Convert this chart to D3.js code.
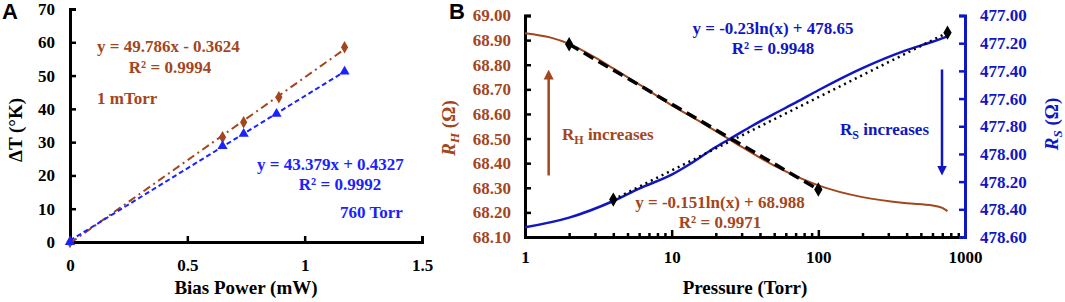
<!DOCTYPE html>
<html>
<head>
<meta charset="utf-8">
<script src="https://cdn.jsdelivr.net/npm/d3@7"></script>
<style>
  body { margin: 0; background: #fff; }
  text { font-family: "Liberation Serif", "Times New Roman", serif; font-weight: bold; }
</style>
</head>
<body>
<script>
// Panel A data
const powerBrown = [0, 0.65, 0.74, 0.89, 1.17]
const dTBrown = [0, 31.5, 36, 43.5, 58.5]
const powerBlue = [0, 0.65, 0.74, 0.88, 1.17]
const dTBlue = [0, 28.8, 32.5, 38.5, 51.2]
const fitBrownA = [[0, -0.36], [1.17, 57.9]]
const fitBlueA = [[0, 0.43], [1.17, 51.2]]
const ticksAx = [0, 0.5, 1, 1.5]
const ticksAy = [0, 10, 20, 30, 40, 50, 60, 70]

// Panel B data
const pressH = [1, 1.5, 2, 3, 4, 6, 10, 15, 25, 50, 100, 200, 400, 600, 700, 760]
const rH = [68.928, 68.91, 68.885, 68.83, 68.785, 68.72, 68.635, 68.575, 68.495, 68.39, 68.31, 68.262, 68.237, 68.228, 68.218, 68.205]
const pressS = [1, 2, 4, 6, 10, 13, 20, 27, 35, 50, 70, 100, 200, 400, 600, 760]
const rS = [478.53, 478.46, 478.34, 478.25, 478.15, 478.08, 477.95, 477.87, 477.80, 477.71, 477.63, 477.54, 477.38, 477.25, 477.19, 477.15]
const fitH = [[2, 68.883], [100, 68.293]]
const fitS = [[4, 478.33], [760, 477.124]]
const ticksBleft = [68.1, 68.2, 68.3, 68.4, 68.5, 68.6, 68.7, 68.8, 68.9, 69.0]
const ticksBright = [477.0, 477.2, 477.4, 477.6, 477.8, 478.0, 478.2, 478.4, 478.6]

const brown = "#a3461d"
const blueA = "#1a22ff"
const blueB = "#1116c4"
const serif = "'Liberation Serif', 'Times New Roman', serif"

const svg = d3.select("body").append("svg")
    .attr("width", 1065)
    .attr("height", 302)

// ---------- Panel A ----------
const xA = d3.scaleLinear().domain([0, 1.5]).range([70, 422])
const yA = d3.scaleLinear().domain([0, 70]).range([242, 9])

const gA = svg.append("g")

gA.append("g")
    .attr("transform", "translate(0,242)")
    .call(d3.axisBottom(xA).tickValues(ticksAx).tickSize(-6).tickPadding(17).tickFormat(d3.format("")))
gA.append("g")
    .attr("transform", "translate(70,0)")
    .call(d3.axisLeft(yA).tickValues(ticksAy).tickSize(-6).tickPadding(15))

gA.selectAll(".domain").attr("stroke", "#000").attr("stroke-width", 3)
gA.selectAll(".tick line").attr("stroke", "#000").attr("stroke-width", 2.5)
gA.selectAll(".tick text").attr("fill", "#000")
    .style("font-family", serif).style("font-weight", "bold").style("font-size", "17px")

const lineA = d3.line().x(d => xA(d[0])).y(d => yA(d[1]))

gA.append("path").datum(fitBrownA).attr("d", lineA)
    .attr("fill", "none").attr("stroke", brown).attr("stroke-width", 2)
    .attr("stroke-dasharray", "8,4,2,4")
gA.append("path").datum(fitBlueA).attr("d", lineA)
    .attr("fill", "none").attr("stroke", blueA).attr("stroke-width", 2)
    .attr("stroke-dasharray", "5,3")

gA.selectAll(".dia").data(powerBrown).enter().append("path")
    .attr("d", d3.symbol(d3.symbolDiamond, 45))
    .attr("transform", (d, i) => `translate(${xA(d)},${yA(dTBrown[i])})`)
    .attr("fill", brown)
gA.selectAll(".tri").data(powerBlue).enter().append("path")
    .attr("d", d3.symbol(d3.symbolTriangle, 45))
    .attr("transform", (d, i) => `translate(${xA(d)},${yA(dTBlue[i])})`)
    .attr("fill", blueA)

gA.append("text").attr("x", 97).attr("y", 52).attr("fill", brown).attr("font-size", 17).text("y = 49.786x - 0.3624")
gA.append("text").attr("x", 170).attr("y", 73).attr("fill", brown).attr("font-size", 17).attr("text-anchor", "middle").text("R² = 0.9994")
gA.append("text").attr("x", 97).attr("y", 104).attr("fill", brown).attr("font-size", 17).text("1 mTorr")
gA.append("text").attr("x", 257).attr("y", 170).attr("fill", blueA).attr("font-size", 17).text("y = 43.379x + 0.4327")
gA.append("text").attr("x", 340).attr("y", 190).attr("fill", blueA).attr("font-size", 17).attr("text-anchor", "middle").text("R² = 0.9992")
gA.append("text").attr("x", 340).attr("y", 218).attr("fill", blueA).attr("font-size", 17).text("760 Torr")

gA.append("text").attr("x", 246).attr("y", 294).attr("text-anchor", "middle").attr("font-size", 19).text("Bias Power (mW)")
gA.append("text").attr("transform", "translate(22,130) rotate(-90)").attr("text-anchor", "middle").attr("font-size", 19).text("ΔT (°K)")
gA.append("text").attr("x", 2).attr("y", 19).attr("font-size", 22)
    .style("font-family", "'Liberation Sans', Arial, sans-serif").text("A")

// ---------- Panel B ----------
const xB = d3.scaleLog().domain([1, 1000]).range([525, 965])
const yL = d3.scaleLinear().domain([68.1, 69.0]).range([237, 15.5])
const yR = d3.scaleLinear().domain([478.6, 477.0]).range([237, 15.5])

const gB = svg.append("g")

const minorTicks = []
for (const dec of [1, 10, 100]) for (let k = 1; k < 10; k++) minorTicks.push(dec * k)
minorTicks.push(1000)

gB.append("g")
    .attr("transform", "translate(0,237)")
    .call(d3.axisBottom(xB).tickValues(minorTicks).tickSize(-4)
        .tickFormat(d => [1, 10, 100, 1000].includes(d) ? d : "").tickPadding(14))
gB.append("g")
    .attr("class", "left")
    .attr("transform", "translate(525,0)")
    .call(d3.axisLeft(yL).tickValues(ticksBleft).tickSize(-6).tickPadding(14).tickFormat(d3.format(".2f")))
const rightAx = gB.append("g")
    .attr("class", "right")
    .attr("transform", "translate(965,0)")
    .call(d3.axisRight(yR).tickValues(ticksBright).tickSize(-6).tickPadding(15).tickFormat(d3.format(".2f")))

gB.selectAll(".domain").attr("stroke", "#000").attr("stroke-width", 3)
gB.selectAll(".tick line").attr("stroke", "#000").attr("stroke-width", 2.5)
gB.selectAll(".tick text").attr("fill", "#000")
    .style("font-family", serif).style("font-weight", "bold").style("font-size", "17px")
gB.selectAll(".left .tick text").attr("fill", brown)
rightAx.select(".domain").attr("stroke", blueB)
rightAx.selectAll(".tick line").attr("stroke", blueB)
rightAx.selectAll(".tick text").attr("fill", blueB)

// major x ticks a bit longer
gB.selectAll(".tick line").filter(d => [10, 100].includes(d)).attr("y2", -7)

const lineH = d3.line().x((d, i) => xB(pressH[i])).y(d => yL(d)).curve(d3.curveMonotoneX)
const lineS = d3.line().x((d, i) => xB(pressS[i])).y(d => yR(d)).curve(d3.curveMonotoneX)

gB.append("path").datum(rH).attr("d", lineH)
    .attr("fill", "none").attr("stroke", brown).attr("stroke-width", 2)
gB.append("path").datum(rS).attr("d", lineS)
    .attr("fill", "none").attr("stroke", blueB).attr("stroke-width", 2.5)

const lineFitH = d3.line().x(d => xB(d[0])).y(d => yL(d[1]))
const lineFitS = d3.line().x(d => xB(d[0])).y(d => yR(d[1]))

gB.append("path").datum(fitH).attr("d", lineFitH)
    .attr("fill", "none").attr("stroke", "#000").attr("stroke-width", 3.5)
    .attr("stroke-dasharray", "11,6")
gB.append("path").datum(fitS).attr("d", lineFitS)
    .attr("fill", "none").attr("stroke", "#000").attr("stroke-width", 2.5)
    .attr("stroke-dasharray", "2,4")

gB.selectAll(".fh").data(fitH).enter().append("path")
    .attr("d", d3.symbol(d3.symbolDiamond, 60))
    .attr("transform", d => `translate(${xB(d[0])},${yL(d[1])})`)
    .attr("fill", "#000")
gB.selectAll(".fs").data(fitS).enter().append("path")
    .attr("d", d3.symbol(d3.symbolDiamond, 60))
    .attr("transform", d => `translate(${xB(d[0])},${yR(d[1])})`)
    .attr("fill", "#000")

// arrows
const defs = svg.append("defs")
for (const [id, c] of [["ahB", brown], ["ahS", blueB]]) {
    defs.append("marker").attr("id", id).attr("viewBox", "0 0 10 10")
        .attr("refX", 5).attr("refY", 5).attr("markerWidth", 4).attr("markerHeight", 5)
        .attr("orient", "auto")
        .append("path").attr("d", "M0,0 L10,5 L0,10 Z").attr("fill", c)
}
gB.append("line").attr("x1", xB(1.45)).attr("x2", xB(1.45))
    .attr("y1", yL(68.35)).attr("y2", yL(68.76))
    .attr("stroke", brown).attr("stroke-width", 2.5).attr("marker-end", "url(#ahB)")
gB.append("line").attr("x1", xB(697)).attr("x2", xB(697))
    .attr("y1", yR(477.39)).attr("y2", yR(478.12))
    .attr("stroke", blueB).attr("stroke-width", 2.5).attr("marker-end", "url(#ahS)")

// annotations
const rhText = gB.append("text").attr("x", 562).attr("y", 140).attr("fill", brown).attr("font-size", 17)
rhText.append("tspan").text("R")
rhText.append("tspan").attr("font-size", 12).attr("dy", 4).text("H")
rhText.append("tspan").attr("dy", -4).text(" increases")

const rsText = gB.append("text").attr("x", 840).attr("y", 135).attr("fill", blueB).attr("font-size", 17)
rsText.append("tspan").text("R")
rsText.append("tspan").attr("font-size", 12).attr("dy", 4).text("S")
rsText.append("tspan").attr("dy", -4).text(" increases")

gB.append("text").attr("x", 773).attr("y", 34).attr("text-anchor", "middle").attr("fill", blueB).attr("font-size", 17).text("y = -0.23ln(x) + 478.65")
gB.append("text").attr("x", 773).attr("y", 54).attr("text-anchor", "middle").attr("fill", blueB).attr("font-size", 17).text("R² = 0.9948")
gB.append("text").attr("x", 720).attr("y", 208).attr("text-anchor", "middle").attr("fill", brown).attr("font-size", 17).text("y = -0.151ln(x) + 68.988")
gB.append("text").attr("x", 720).attr("y", 228).attr("text-anchor", "middle").attr("fill", brown).attr("font-size", 17).text("R² = 0.9971")

gB.append("text").attr("x", 745).attr("y", 294).attr("text-anchor", "middle").attr("font-size", 19).text("Pressure (Torr)")

const lblH = gB.append("text").attr("transform", "translate(455,128) rotate(-90)")
    .attr("text-anchor", "middle").attr("fill", brown).attr("font-size", 19)
lblH.append("tspan").attr("font-style", "italic").text("R")
lblH.append("tspan").attr("font-style", "italic").attr("font-size", 13).attr("dy", 4).text("H")
lblH.append("tspan").attr("dy", -4).text(" (Ω)")

const lblS = gB.append("text").attr("transform", "translate(1058,124) rotate(-90)")
    .attr("text-anchor", "middle").attr("fill", blueB).attr("font-size", 19)
lblS.append("tspan").attr("font-style", "italic").text("R")
lblS.append("tspan").attr("font-style", "italic").attr("font-size", 13).attr("dy", 4).text("S")
lblS.append("tspan").attr("dy", -4).text(" (Ω)")

gB.append("text").attr("x", 449).attr("y", 19).attr("font-size", 22)
    .style("font-family", "'Liberation Sans', Arial, sans-serif").text("B")
</script>
</body>
</html>
